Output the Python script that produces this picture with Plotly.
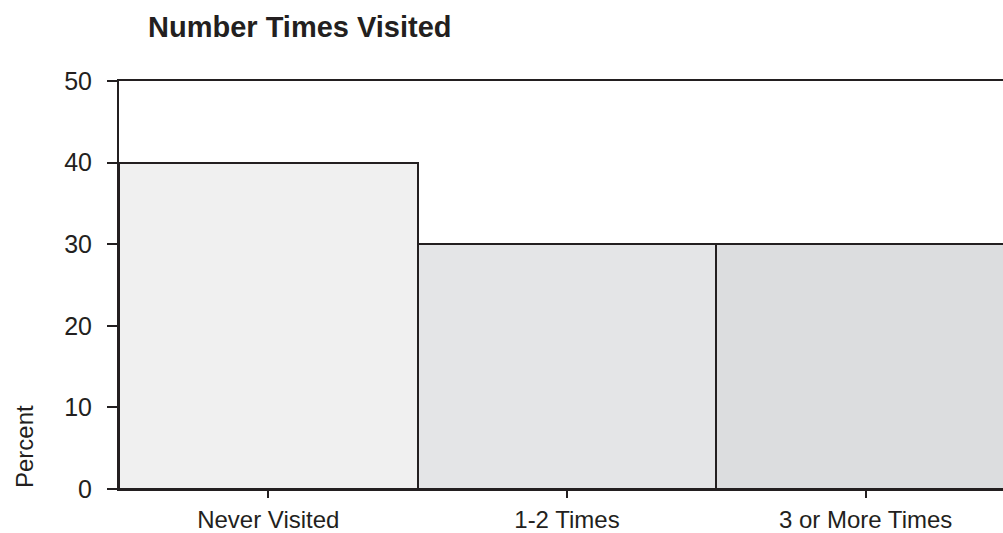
import plotly.graph_objects as go

categories = ["Never Visited", "1-2 Times", "3 or More Times"]
percent = [40, 30, 30]
bar_colors = ["#f0f0f0", "#e4e5e7", "#dcdddf"]
y_ticks = [0, 10, 20, 30, 40, 50]

ink = "#231f20"
font_family = "Liberation Sans, Arial, Helvetica, sans-serif"

fig = go.Figure(
    go.Bar(
        x=categories,
        y=percent,
        marker=dict(color=bar_colors, line=dict(color=ink, width=2)),
        showlegend=False,
        hoverinfo="skip",
    )
)

fig.update_layout(
    width=1003,
    height=533,
    margin=dict(l=119, r=0, t=81, b=44),
    paper_bgcolor="white",
    plot_bgcolor="white",
    bargap=0,
    font=dict(family=font_family, size=25, color=ink),
    title=dict(
        text="<b>Number Times Visited</b>",
        x=148 / 1003,
        xanchor="left",
        xref="container",
        y=1 - 27 / 533,
        yanchor="middle",
        yref="container",
        font=dict(family=font_family, size=29, color=ink),
    ),
)

fig.update_xaxes(
    type="category",
    range=[-0.5, 2.46],
    automargin=False,
    showgrid=False,
    showline=True,
    linecolor=ink,
    linewidth=2,
    mirror=True,
    ticks="outside",
    ticklen=7,
    tickwidth=2,
    tickcolor=ink,
    ticklabelstandoff=1,
    tickfont=dict(size=24, color=ink),
)

fig.update_yaxes(
    range=[0, 50],
    tickvals=y_ticks,
    automargin=False,
    showgrid=False,
    zeroline=False,
    showline=True,
    linecolor=ink,
    linewidth=2,
    ticks="outside",
    ticklen=10,
    tickwidth=2,
    tickcolor=ink,
    ticklabelstandoff=10,
    tickfont=dict(size=25, color=ink),
)

fig.add_annotation(
    text="Percent",
    textangle=-90,
    xref="paper",
    yref="paper",
    x=-(119 - 24) / 884,
    y=(489 - 447) / 408,
    xanchor="center",
    yanchor="middle",
    showarrow=False,
    font=dict(family=font_family, size=24, color=ink),
)

fig.write_html("out.html")
